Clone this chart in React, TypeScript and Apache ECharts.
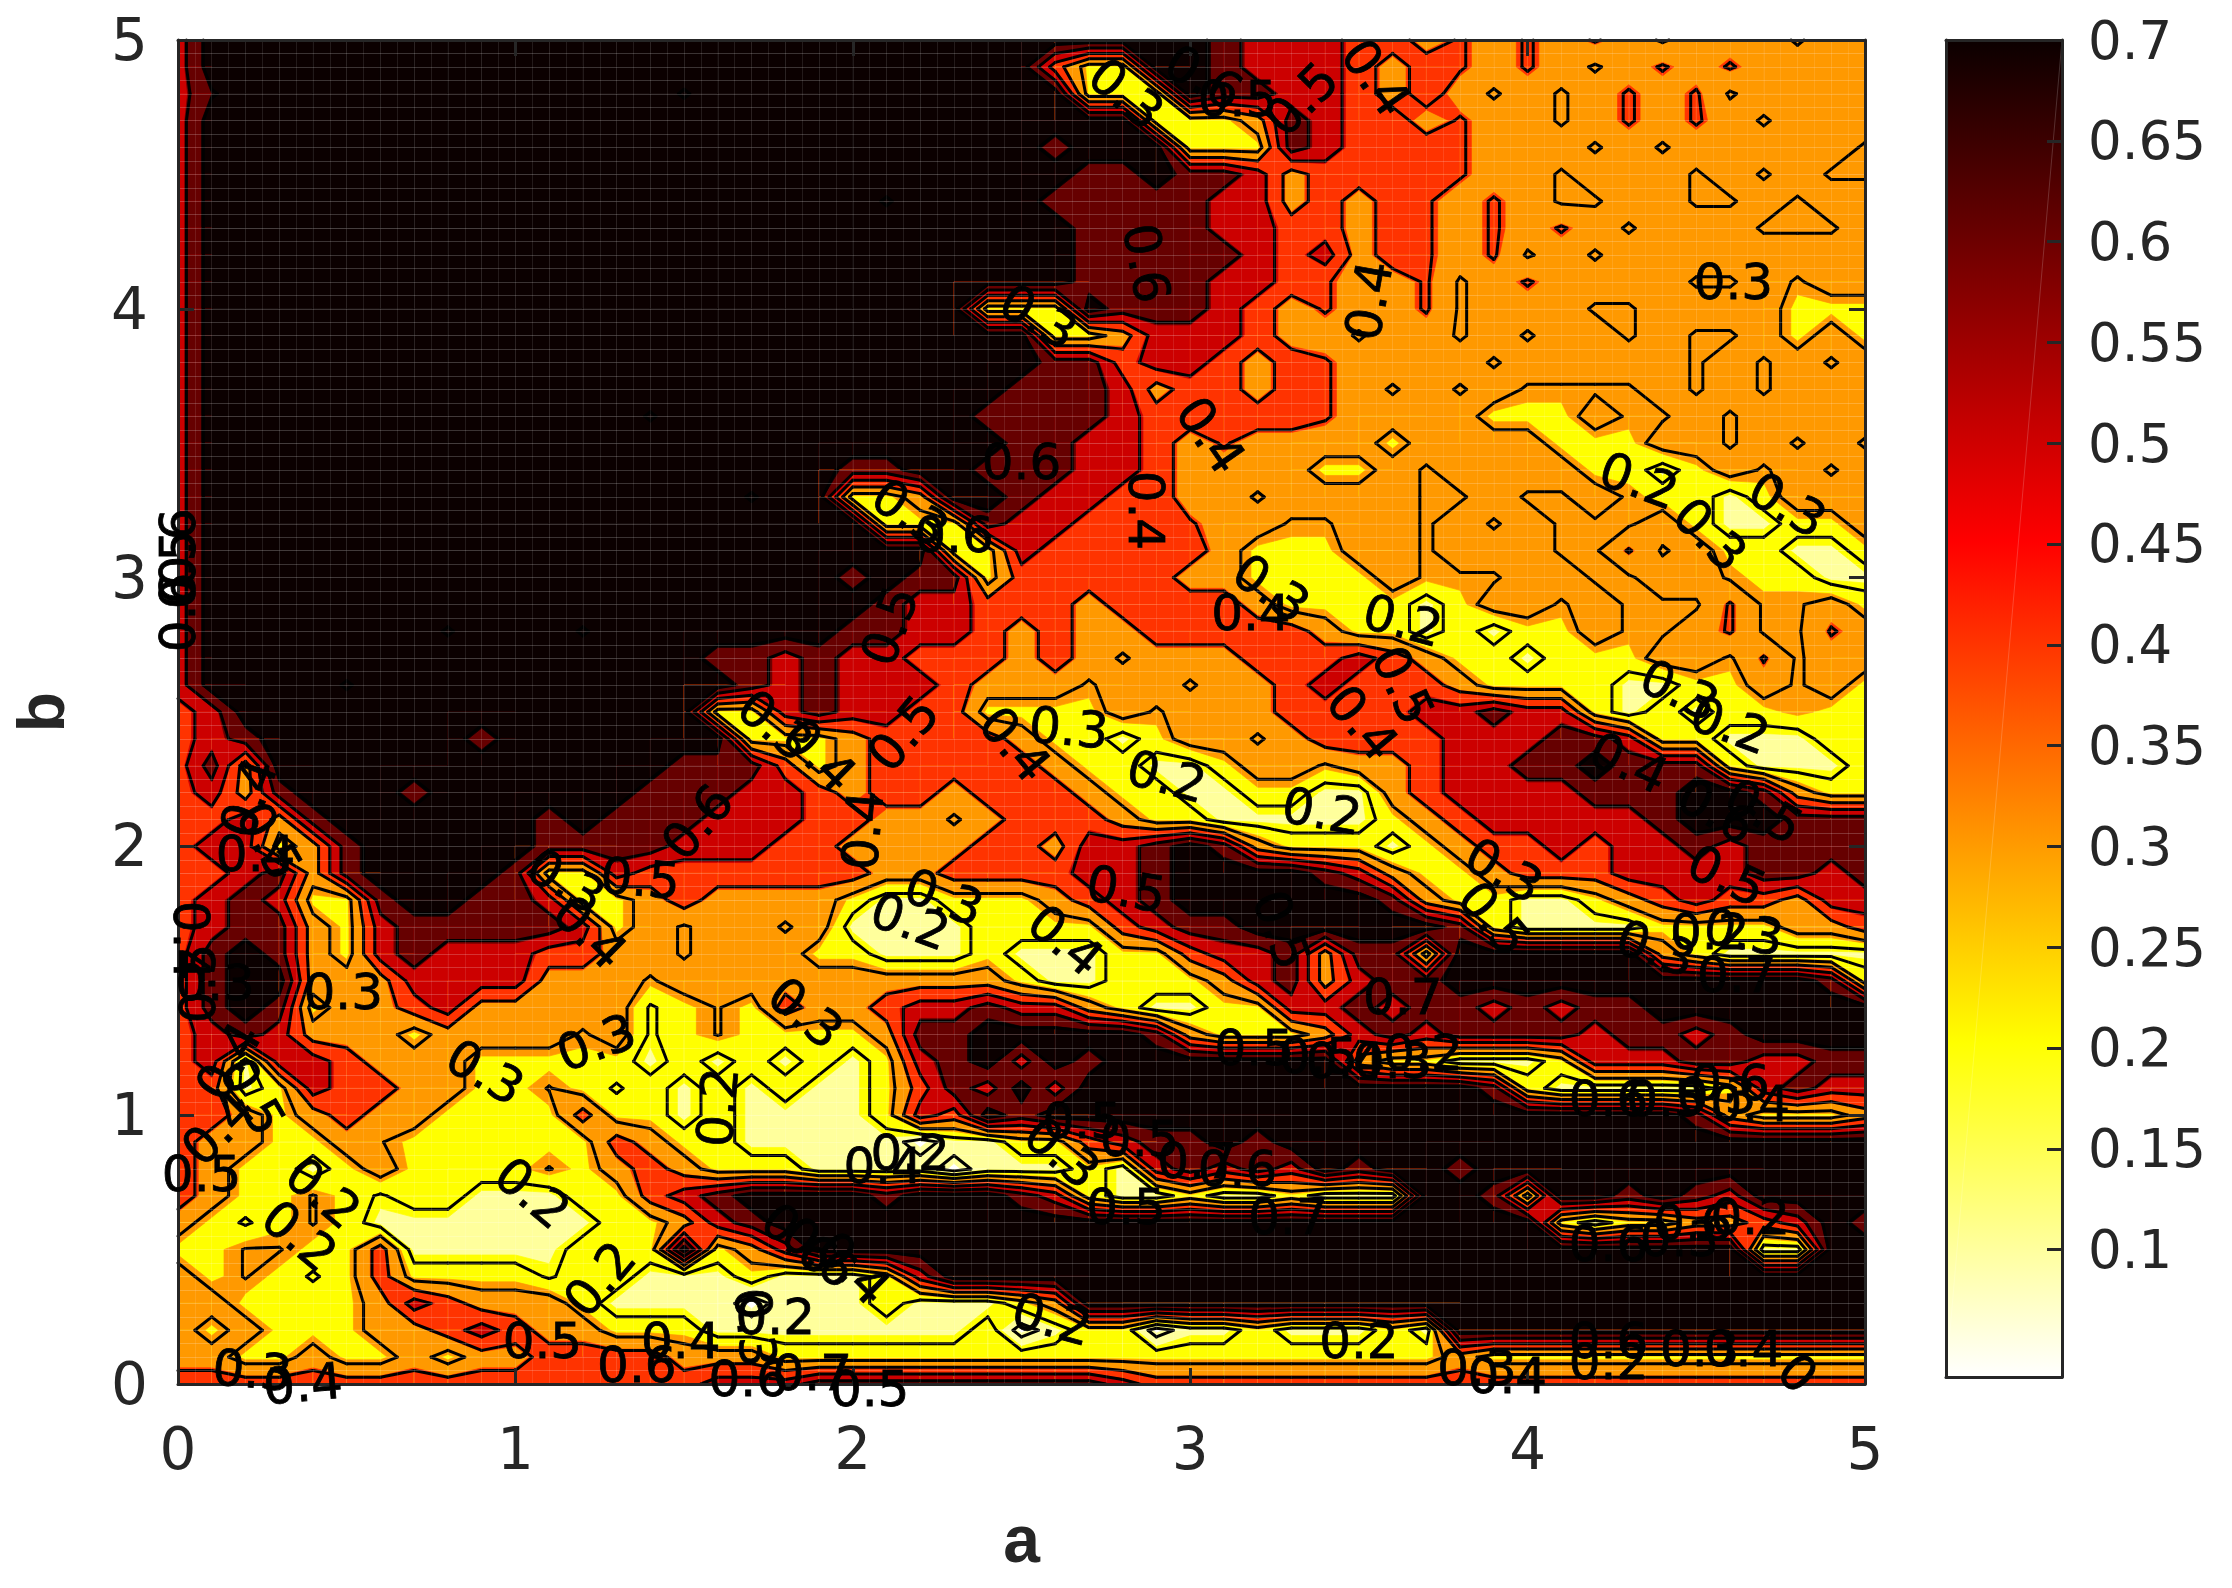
import React, { useEffect, useRef } from "react";
import * as echarts from "echarts";

// a = 0 .. 5 and b = 5 .. 0 in steps of 0.1; each character is one value.
const A_STEP = 0.1;
const B_STEP = 0.1;
const valueCodes: Record<string, number> = {
  "0": 0.05, "1": 0.15, "2": 0.25, "3": 0.35, "4": 0.45, "5": 0.55, "6": 0.65, "7": 0.75,
  a: 0.288, b: 0.41, c: 0.188, d: 0.305, i: 0.69,
};
const rowsTopDown = [
  "5777777777 7777777777 7777777777 76555443b3 b3b3a333a3 3",
  "5777777777 7777777777 7777774227 76555434b3 b3a3b3b333 3",
  "5i77777777 77777i7777 7777777222 766554343a 3a3b3ba333 3",
  "5777777777 7777777777 7777777772 22365443b3 3a3b3b3a33 3",
  "5777777777 7777777777 7777776777 22265444b3 33a3a33333 a",
  "5777777777 7777777777 7777777667 66534444b3 3a333a3a3a a",
  "5777777777 7777777777 7i77776666 6553434b3b 3aa33aa3a3 3",
  "5777777777 7777777777 7777777666 6554434b3b 3b3a333aaa 3",
  "5777777777 7777777777 7777777666 6654534b3b a3a3333333 3",
  "5777777777 7777777777 7777777666 6554b33ba3 b3333aa3a3 3",
  "5777777777 7777777777 7777222766 6543b33ba3 33aa333322 2",
  "5777777777 7777777777 7777772235 55433a33a3 a33a3aa323 2",
  "5777777777 7777777777 7777776645 5434b3333a 33333a3a3a 3",
  "5777777777 7777777777 7777766653 4434b3a3a3 aaaa3a3a33 3",
  "5777777777 7777i77777 7777666654 4444b33332 223aa3a333 3",
  "5777777777 7777777777 7777766554 3b33332333 322233a3a3 a",
  "5777777777 7777777777 6677666554 3333223a33 3322123a3a 3",
  "5777777777 7777777i77 2237765544 33a3333aa3 aa3a221233 3",
  "5777777777 7777777777 7222655444 b33aa33a3a 3aaa321122 3",
  "5777777777 7777777777 7772254444 4322233a33 3aaba32211 2",
  "5777777777 7777777777 6766244444 3322223aaa 33aa33a221 1",
  "5777777777 7777777777 7655444344 4432222123 3a3aaabaa3 2",
  "57777777i7 77i7777777 6655434334 4444322121 223aa3baab 3",
  "5777777777 7777776656 55444343a3 3344454322 122233aba3 3",
  "57777i7777 7777777656 5554333a33 a334544432 22211223a3 2",
  "4577777777 7777772256 554422223a 3334444556 55212122a2 2",
  "4567777776 7777777222 3444432212 33a3444455 5665221112 2",
  "4637777777 7777766642 3444443221 1233a33455 6676662111 2",
  "4536777677 7777666554 3443444322 1122113455 5566677632 2",
  "4453677777 7676665554 433a344432 2111112345 5555677766 6",
  "4552367777 7666655544 3333443556 7632221234 4545565666 6",
  "4456367777 6225444444 4334444556 7777653223 4445555665 6",
  "4565226776 6522343333 2112223456 7777776322 1123454435 5",
  "4566325666 66523a33a3 1111222245 6677777762 1111222233 4",
  "4676325655 54433a3332 2111211122 4556366277 7777321111 1",
  "4677333555 5333a33333 3333321122 2356356677 7777777776 2",
  "4676233453 3333c2d243 3455655321 1225565665 6566777777 7",
  "4565333233 33a3c2d222 2366777776 3222356566 6656656777 7",
  "4515543332 2222121212 1256757677 7777732211 1255566556 6",
  "4412544332 2d2c212121 1246575777 7777777776 2111112565 5",
  "4432343322 2242212111 1254767777 7777777777 7777763222 3",
  "433223d222 2224322111 1101122456 6767777777 7777777777 7",
  "4322123222 2d23432221 1110111215 6565767767 7777777777 7",
  "4322d2c221 1122456777 7677765211 2112111776 2776765777 7",
  "32c2d21111 1112235677 7777777777 7777777777 7212233457 6",
  "22dd224111 1122272357 7777777777 7777777777 7777777117 7",
  "32d2c24222 2c22111211 1257777777 7777777777 7777777777 7",
  "3322223543 3321111011 1211123777 7777777777 7777777777 7",
  "3232223345 4332221111 1111201220 1121112177 7777777777 7",
  "3322322323 3444433322 2222222222 2222222232 2222222222 2",
  "4444444444 4444445556 6666666654 4444444444 4444444444 4",
];
const lineLevels = [0.1, 0.2, 0.3, 0.4, 0.5, 0.6, 0.7];
const fillLevels = [0.07, 0.17, 0.27, 0.39, 0.49, 0.59, 0.69];
const bandColors = ["#FFFFFF", "#FFFF9C", "#FFFF00", "#FF9900", "#FF3300", "#CC0000", "#660000", "#0B0000"];
const colorbarTicks = [0.1, 0.15, 0.2, 0.25, 0.3, 0.35, 0.4, 0.45, 0.5, 0.55, 0.6, 0.65, 0.7];
const colorbarMin = 0.0368;
const colorbarMax = 0.7;
const colorbarStops: [number, string][] = [
  [0, "#0B0000"], [0.375, "#FF0000"], [0.75, "#FFFF00"], [1, "#FFFFFF"],
];
// [a, b, text, rotation]
const contourLabels: [number, number, string, number][] = [
  [2.81,4.8,"0.3",-40],[3.33,4.78,"0.5",45],[3.55,4.86,"0.4",-55],[2.87,4.17,"0.6",-80],[3.04,4.86,"0.6",-30],
  [3.14,4.78,"0.5",0],[3.53,4.03,"0.4",80],[4.61,4.1,"0.3",0],[2.55,3.97,"0.3",-30],[3.06,3.53,"0.4",-55],
  [2.87,3.25,"0.4",-90],[4.33,3.36,"0.2",-20],[4.77,3.27,"0.3",-30],[4.54,3.16,"0.3",-45],[3.18,2.87,"0.4",0],
  [3.24,2.96,"0.3",-35],[3.63,2.84,"0.2",-15],[3.63,2.6,"0.5",-65],[3.51,2.46,"0.4",-50],[4.45,2.58,"0.3",-25],
  [4.6,2.45,"0.2",-20],[2.64,2.44,"0.3",-5],[2.48,2.38,"0.4",-50],[2.93,2.26,"0.2",-15],[3.39,2.13,"0.2",-10],
  [2.03,2.06,"0.4",85],[2.15,2.42,"0.5",50],[2.5,3.43,"0.6",0],[2.17,3.24,"0.3",-35],[2.3,3.16,"0.6",0],
  [2.11,2.82,"0.5",70],[1.77,2.45,"0.3",-40],[1.9,2.34,"0.4",-45],[1.54,2.09,"0.6",50],[2.27,1.81,"0.3",-20],
  [2.17,1.72,"0.2",-20],[2.63,1.65,"0.4",-40],[2.81,1.84,"0.5",-10],[3.93,1.91,"0.3",-30],[4.59,1.89,"0.5",-25],
  [4.38,1.62,"0.3",-20],[4.54,1.68,"0.2",0],[4.64,1.68,"0.3",-10],[4.3,2.31,"0.4",-25],[4.56,2.13,"0.6",-30],
  [4.7,2.13,"0.5",-30],[1.22,1.68,"0.4",-45],[1.15,1.87,"0.3",-30],[1.37,1.88,"0.5",-5],[0.49,1.46,"0.3",0],
  [0.91,1.16,"0.3",-30],[1.24,1.27,"0.3",20],[1.6,1.03,"0.2",85],[1.05,0.71,"0.2",-40],[0.36,0.55,"0.2",-40],
  [0.43,0.71,"0.2",-40],[1.25,0.39,"0.2",50],[1.71,0.21,"0.3",-85],[1.77,0.25,"0.2",0],[1.08,0.16,"0.5",0],
  [1.36,0.07,"0.6",0],[1.49,0.16,"0.4",0],[0.22,0.05,"0.3",-5],[0.37,0,"0.4",5],[1.69,0.02,"0.6",0],
  [1.88,0.04,"0.7",0],[2.05,-0.02,"0.5",0],[0.12,0.95,"0.4",45],[0.22,1.07,"0.5",-60],[0.07,0.78,"0.5",0],
  [0.15,1.2,"0.4",60],[0.04,1.65,"0.4",-90],[0.06,1.49,"0.5",90],[0.11,1.49,"0.3",0],[0.21,2.18,"0.4",70],
  [0.27,2.02,"0.5",-60],[0.23,1.97,"0.4",0],[0,3.11,"0.6",90],[0,3.03,"0.5",90],[0,2.87,"0.6",90],
  [3.19,1.25,"0.5",0],[3.38,1.22,"0.5",0],[3.46,1.2,"0.4",0],[3.6,1.2,"0.3",0],[3.69,1.23,"0.2",0],
  [4.24,1.06,"0.6",0],[4.41,1.06,"0.5",0],[4.56,1.07,"0.3",0],[4.6,1.12,"0.6",0],[4.66,1.04,"0.4",0],
  [4.62,1.52,"0.7",0],[3.63,1.44,"0.7",0],[3.9,1.73,"0.5",-50],[3.27,1.69,"0.5",-70],[2.68,0.98,"0.5",0],
  [2.85,0.91,"0.5",0],[2.62,0.86,"0.3",-40],[3.02,0.83,"0.7",0],[3.14,0.8,"0.6",0],[3.29,0.62,"0.7",0],
  [2.81,0.66,"0.5",0],[4.24,0.52,"0.6",0],[4.45,0.54,"0.3",0],[4.49,0.6,"0.6",0],[4.66,0.62,"0.2",0],
  [2.59,0.24,"0.2",-15],[3.5,0.16,"0.2",0],[3.85,0.06,"0.3",0],[3.94,0.03,"0.4",0],[4.24,0.16,"0.6",0],
  [4.24,0.08,"0.2",0],[4.51,0.13,"0.3",0],[4.64,0.13,"0.4",0],[4.8,0.04,"0",-45],[2,0.43,"0.4",-45],
  [1.9,0.49,"0.6",-40],[1.84,0.54,"0.6",-40],[2.17,0.86,"0.2",0],[2.09,0.81,"0.4",0],[1.86,1.38,"0.3",-40],
];

const FONT = "DejaVu Sans";
const BOLD_FONT = "Liberation Sans";
const INK = "#262626";
const grid = rowsTopDown.map((r) => r.replace(/ /g, "").split("").map((c) => valueCodes[c] ?? 0.35));
const nRows = grid.length;
const nCols = grid[0].length;
const valueAt = (c: number, r: number) => grid[r][c] ?? grid[r][c - 1] ?? 0.35;
const cells: number[][] = [];
for (let r = 0; r < nRows - 1; r++) for (let c = 0; c < nCols - 1; c++) cells.push([c * A_STEP, (nRows - 1 - r) * B_STEP, c, r]);

type P = [number, number, number];
const corners = (c: number, r: number): P[] => {
  const a0 = c * A_STEP, a1 = (c + 1) * A_STEP, b0 = (nRows - 1 - r) * B_STEP, b1 = (nRows - 2 - r) * B_STEP;
  return [[a0, b0, valueAt(c, r)], [a1, b0, valueAt(c + 1, r)], [a1, b1, valueAt(c + 1, r + 1)], [a0, b1, valueAt(c, r + 1)]];
};
const crossing = (p: P, q: P, t: number): P => {
  const f = (t - p[2]) / (q[2] - p[2]);
  return [p[0] + (q[0] - p[0]) * f, p[1] + (q[1] - p[1]) * f, t];
};
const clipAbove = (pts: P[], t: number): P[][] => {
  const up = pts.map((p) => p[2] >= t);
  const saddle = up[0] === up[2] && up[1] === up[3] && up[0] !== up[1];
  const mean = (pts[0][2] + pts[1][2] + pts[2][2] + pts[3][2]) / 4;
  if (saddle && mean < t) {
    const out: P[][] = [];
    pts.forEach((p, i) => {
      if (up[i]) out.push([crossing(pts[(i + 3) % 4], p, t), p, crossing(p, pts[(i + 1) % 4], t)]);
    });
    return out;
  }
  const out: P[] = [];
  pts.forEach((p, i) => {
    const q = pts[(i + 1) % pts.length];
    if (p[2] >= t) out.push(p);
    if ((p[2] >= t) !== (q[2] >= t)) out.push(crossing(p, q, t));
  });
  return [out];
};

function renderFill(params: any, api: any) {
  const c = api.value(2), r = api.value(3);
  const pts = corners(c, r);
  const vs = pts.map((p) => p[2]);
  const lo = Math.min(...vs), hi = Math.max(...vs);
  let base = 0;
  while (base < fillLevels.length && lo >= fillLevels[base]) base++;
  const shape = (poly: P[], color: string) => ({
    type: "polygon",
    shape: { points: poly.map((p) => api.coord([p[0], p[1]])) },
    style: { fill: color, stroke: color, lineWidth: 0.7 },
  });
  const children: any[] = [shape(pts, bandColors[base])];
  for (let k = base; k < fillLevels.length && hi >= fillLevels[k]; k++) {
    clipAbove(pts, fillLevels[k]).forEach((poly) => {
      if (poly.length > 2) children.push(shape(poly, bandColors[k + 1]));
    });
  }
  return { type: "group", children };
}

function renderLines(params: any, api: any) {
  const c = api.value(2), r = api.value(3);
  const pts = corners(c, r);
  const children: any[] = [];
  lineLevels.forEach((t) => {
    const xs: P[] = [];
    pts.forEach((p, i) => {
      const q = pts[(i + 1) % 4];
      if ((p[2] >= t) !== (q[2] >= t)) xs.push(crossing(p, q, t));
    });
    const seg = (u: P, v: P) => children.push({
      type: "line",
      shape: (() => { const a = api.coord([u[0], u[1]]), b = api.coord([v[0], v[1]]); return { x1: a[0], y1: a[1], x2: b[0], y2: b[1] }; })(),
      style: { stroke: "#000", lineWidth: 3, lineCap: "round" },
    });
    if (xs.length === 2) seg(xs[0], xs[1]);
    if (xs.length === 4) {
      const mean = (pts[0][2] + pts[1][2] + pts[2][2] + pts[3][2]) / 4;
      if ((mean >= t) === (pts[0][2] >= t)) { seg(xs[0], xs[1]); seg(xs[2], xs[3]); }
      else { seg(xs[3], xs[0]); seg(xs[1], xs[2]); }
    }
  });
  return { type: "group", children };
}

function renderColorbar(params: any, api: any) {
  const tl = api.coord([0, colorbarMax]);
  const br = api.coord([1, colorbarMin]);
  return {
    type: "group",
    children: [
      {
        type: "rect",
        shape: { x: tl[0], y: tl[1], width: br[0] - tl[0], height: br[1] - tl[1] },
        style: { fill: new echarts.graphic.LinearGradient(0, 0, 0, 1, colorbarStops.map(([offset, color]) => ({ offset, color }))) },
      },
      {
        type: "line",
        shape: { x1: br[0], y1: tl[1], x2: tl[0], y2: br[1] },
        style: { stroke: "rgba(255,255,255,0.18)", lineWidth: 1 },
      },
    ],
  };
}

const frameAxis = { lineStyle: { color: INK, width: 3 } };
const bareLabel = { show: false };
const mainTick = { show: true, inside: true, length: 16, lineStyle: { color: INK, width: 3 } };
const seam = (alpha: number) => ({ show: true, lineStyle: { color: `rgba(255,255,255,${alpha})`, width: 1 } });
const boxAxis = (extra: any) => ({
  type: "value", gridIndex: 0, min: 0, max: 5, interval: 1, z: 10,
  axisLine: { show: true, onZero: false, ...frameAxis }, axisTick: mainTick, axisLabel: bareLabel, splitLine: { show: false }, ...extra,
});
const seamAxis = (extra: any) => ({
  type: "value", gridIndex: 0, min: 0, max: 5, interval: 0.05, z: 5,
  axisLine: { show: false }, axisTick: { show: false }, axisLabel: bareLabel, ...extra,
});
const tickFont = { show: true, color: INK, fontFamily: FONT };

export default function App() {
  const ref = useRef<HTMLDivElement>(null);
  useEffect(() => {
    document.body.style.margin = "0";
    const chart = echarts.init(ref.current!, undefined, { renderer: "svg" });
    chart.setOption({
      animation: false,
      backgroundColor: "#fff",
      grid: [
        { left: 178, top: 40, width: 1687, height: 1344 },
        { left: 1946, top: 40, width: 116, height: 1337 },
      ],
      xAxis: [
        boxAxis({
          position: "bottom",
          axisLabel: { ...tickFont, fontSize: 58, margin: 36 },
          name: "a", nameLocation: "middle", nameGap: 122,
          nameTextStyle: { fontFamily: BOLD_FONT, fontWeight: "bold", fontSize: 66, color: INK },
        }),
        boxAxis({ position: "top" }),
        seamAxis({ position: "bottom", splitLine: seam(0.1) }),
        { type: "value", gridIndex: 1, min: 0, max: 1, position: "bottom", z: 10, axisLine: { show: true, onZero: false, ...frameAxis }, axisTick: { show: false }, axisLabel: bareLabel, splitLine: { show: false } },
        { type: "value", gridIndex: 1, min: 0, max: 1, position: "top", z: 10, axisLine: { show: true, onZero: false, ...frameAxis }, axisTick: { show: false }, axisLabel: bareLabel, splitLine: { show: false } },
      ],
      yAxis: [
        boxAxis({
          position: "left",
          axisLabel: { ...tickFont, fontSize: 58, margin: 30 },
          name: "b", nameLocation: "middle", nameGap: 104, nameRotate: 90,
          nameTextStyle: { fontFamily: BOLD_FONT, fontWeight: "bold", fontSize: 66, color: INK },
        }),
        boxAxis({ position: "right" }),
        seamAxis({ position: "left", splitLine: seam(0.2) }),
        {
          type: "value", gridIndex: 1, min: colorbarMin, max: colorbarMax, position: "right", z: 10,
          axisLine: { show: true, onZero: false, ...frameAxis },
          axisTick: { show: true, inside: true, length: 15, customValues: colorbarTicks.slice(0, -1), lineStyle: { color: INK, width: 3 } },
          axisLabel: { ...tickFont, fontSize: 53, margin: 26, customValues: colorbarTicks, formatter: (v: number) => String(+v.toFixed(2)) },
          splitLine: { show: false },
        },
        { type: "value", gridIndex: 1, min: colorbarMin, max: colorbarMax, position: "left", z: 10, axisLine: { show: true, onZero: false, ...frameAxis }, axisTick: { show: false }, axisLabel: bareLabel, splitLine: { show: false } },
      ],
      series: [
        { type: "custom", xAxisIndex: 0, yAxisIndex: 0, z: 2, silent: true, clip: false, progressive: 0, renderItem: renderFill, data: cells, encode: { x: 0, y: 1 } },
        { type: "custom", xAxisIndex: 0, yAxisIndex: 0, z: 3, silent: true, clip: false, progressive: 0, renderItem: renderLines, data: cells, encode: { x: 0, y: 1 } },
        {
          type: "scatter", xAxisIndex: 0, yAxisIndex: 0, z: 20, silent: true, clip: false, symbolSize: 1, itemStyle: { color: "transparent" },
          data: contourLabels.map(([a, b, text, rot]) => ({
            value: [a, b],
            label: { show: true, position: "inside", formatter: text, rotate: rot, fontSize: 50, color: "#000", opacity: 1, fontFamily: FONT, textBorderColor: "#000", textBorderWidth: 0.8 },
          })),
        },
        { type: "custom", xAxisIndex: 3, yAxisIndex: 3, z: 2, silent: true, clip: false, renderItem: renderColorbar, data: [[0, colorbarMin]], encode: { x: 0, y: 1 } },
      ],
    });
    return () => chart.dispose();
  }, []);
  return <div ref={ref} style={{ width: 2232, height: 1588 }} />;
}
